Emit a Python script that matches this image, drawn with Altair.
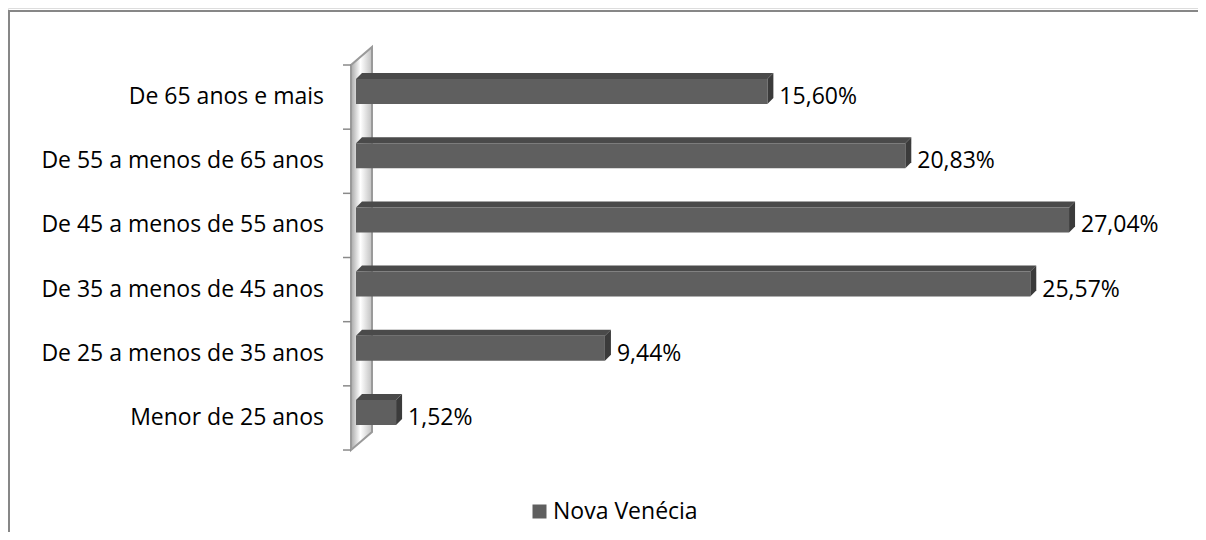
import altair as alt
import pandas as pd

# ---- data ----
categorias = ["Menor de 25 anos", "De 25 a menos de 35 anos", "De 35 a menos de 45 anos",
              "De 45 a menos de 55 anos", "De 55 a menos de 65 anos", "De 65 anos e mais"]
valores = [1.52, 9.44, 25.57, 27.04, 20.83, 15.60]
rotulos = ["1,52%", "9,44%", "25,57%", "27,04%", "20,83%", "15,60%"]
serie = "Nova Venécia"

# ---- layout constants (pixels) ----
W, H = 1190, 524
PX_X = 26.37          # px per percentage point
PX_Y = 64.17          # px per category band
X0 = 348              # px of value 0 inside the chart
YTOP = 57             # px of top band boundary

FONT = "Open Sans"
FS = 23

x_scale = alt.Scale(domain=[-X0 / PX_X, (W - X0) / PX_X], nice=False, zero=False)
y_scale = alt.Scale(domain=[5.5 - (H - YTOP) / PX_Y, 5.5 + YTOP / PX_Y], nice=False, zero=False)

# derived sizes in data units
wl, wr = -5 / PX_X, 16 / PX_X       # wall front/back x
wdy = 18 / PX_Y                     # wall depth (vertical)
boff, bhh = 5.5 / PX_Y, 12.5 / PX_Y  # bar front offset / half-height
ddx, ddy = 6 / PX_X, 6 / PX_Y       # bar depth

rows_front, rows_top, rows_side, rows_txt = [], [], [], []
for i, (c, v, r) in enumerate(zip(categorias, valores, rotulos)):
    lo, hi = i + boff - bhh, i + boff + bhh
    rows_front.append({"cat": c, "x1": 0.0, "x2": v, "y1": lo, "y2": hi, "serie": serie})
    for xx, a, b in [(0.0, hi, hi), (ddx, hi, hi + ddy), (v, hi, hi + ddy), (v + ddx, hi + ddy, hi + ddy)]:
        rows_top.append({"cat": c, "x": xx, "lo": a, "hi": b})
    for xx, a, b in [(v, lo, hi), (v + ddx, lo + ddy, hi + ddy)]:
        rows_side.append({"cat": c, "x": xx, "lo": a, "hi": b})
    rows_txt.append({"cat": c, "yc": float(i), "xv": v + ddx + 6 / PX_X, "lab": r,
                     "xc": wl - 27 / PX_X})

front = pd.DataFrame(rows_front)
top = pd.DataFrame(rows_top)
side = pd.DataFrame(rows_side)
txt = pd.DataFrame(rows_txt)
wall = pd.DataFrame({"x": [wl, wr], "lo": [-0.5, -0.5 + wdy], "hi": [5.5, 5.5 + wdy]})
ticks = pd.DataFrame({"y": [k - 0.5 for k in range(len(categorias) + 1)],
                      "xa": wl - 8 / PX_X, "xb": wl})

grad = alt.Gradient(gradient="linear",
                    stops=[alt.GradientStop(color="#a8a8a8", offset=0),
                           alt.GradientStop(color="#ffffff", offset=0.45),
                           alt.GradientStop(color="#c0c0c0", offset=1)],
                    x1=0, x2=1, y1=0, y2=0)

wall_l = alt.Chart(wall).mark_area(orient="vertical", color=grad, stroke="#9a9a9a",
                                   strokeWidth=2).encode(
    x=alt.X("x:Q", scale=x_scale, axis=None),
    y=alt.Y("lo:Q", scale=y_scale, axis=None),
    y2="hi:Q")

tick_l = alt.Chart(ticks).mark_rule(color="#8a8a8a", strokeWidth=1.5).encode(
    x=alt.X("xa:Q", scale=x_scale, axis=None), x2="xb:Q",
    y=alt.Y("y:Q", scale=y_scale, axis=None))

top_l = alt.Chart(top).mark_area(orient="vertical", color="#4a4a4a").encode(
    x=alt.X("x:Q", scale=x_scale, axis=None),
    y=alt.Y("lo:Q", scale=y_scale, axis=None), y2="hi:Q",
    detail="cat:N")

side_l = alt.Chart(side).mark_area(orient="vertical", color="#3b3b3b").encode(
    x=alt.X("x:Q", scale=x_scale, axis=None),
    y=alt.Y("lo:Q", scale=y_scale, axis=None), y2="hi:Q",
    detail="cat:N")

front_l = alt.Chart(front).mark_rect().encode(
    x=alt.X("x1:Q", scale=x_scale, axis=None), x2="x2:Q",
    y=alt.Y("y1:Q", scale=y_scale, axis=None), y2="y2:Q",
    color=alt.Color("serie:N", scale=alt.Scale(domain=[serie], range=["#5f5f5f"]),
                    legend=alt.Legend(title=None, orient="none", legendX=520, legendY=492,
                                      symbolType="square", symbolSize=196, symbolStrokeWidth=0,
                                      labelFontSize=FS, labelFont=FONT, labelColor="#000000",
                                      labelOffset=2, padding=0)))

val_l = alt.Chart(txt).mark_text(align="left", baseline="middle", font=FONT, fontSize=FS,
                                 color="#000000").encode(
    x=alt.X("xv:Q", scale=x_scale, axis=None),
    y=alt.Y("yc:Q", scale=y_scale, axis=None),
    text="lab:N")

cat_l = alt.Chart(txt).mark_text(align="right", baseline="middle", font=FONT, fontSize=FS,
                                 color="#000000").encode(
    x=alt.X("xc:Q", scale=x_scale, axis=None),
    y=alt.Y("yc:Q", scale=y_scale, axis=None),
    text="cat:N")

one = pd.DataFrame({"a": [0]})
border_top = alt.Chart(one).mark_rule(color="#878787", strokeWidth=2).encode(
    x=alt.value(0), x2=alt.value(W + 10), y=alt.value(3))
border_left = alt.Chart(one).mark_rule(color="#878787", strokeWidth=2).encode(
    x=alt.value(1), y=alt.value(3), y2=alt.value(H + 10))

chart = alt.layer(wall_l, tick_l, top_l, side_l, front_l, val_l, cat_l,
                  border_top, border_left).properties(
    width=W, height=H, autosize="none", padding=0
).configure_view(stroke=None).configure(background="white")

chart.save("out.html", embed_options={"renderer": "svg", "actions": False})
